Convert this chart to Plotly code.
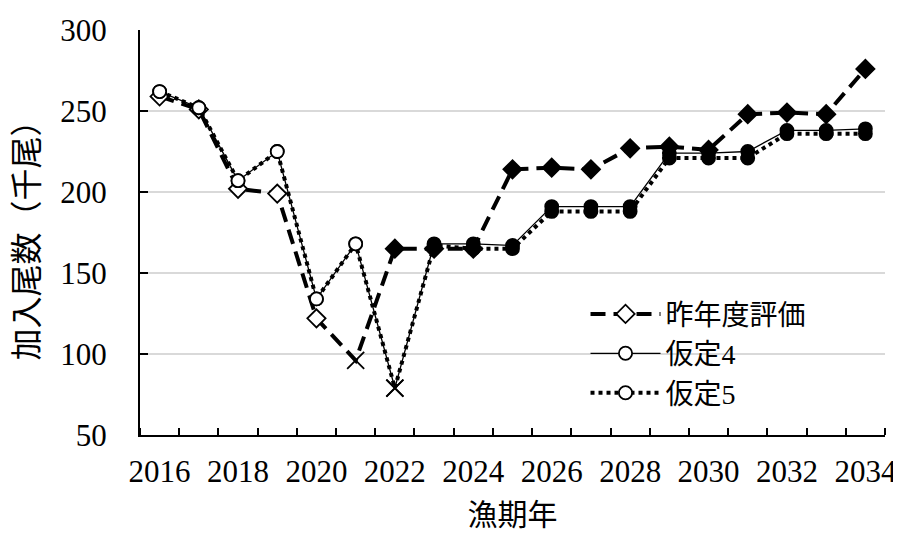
import plotly.graph_objects as go

# data
years = [2016, 2017, 2018, 2019, 2020, 2021, 2022, 2023, 2024, 2025,
         2026, 2027, 2028, 2029, 2030, 2031, 2032, 2033, 2034]
label_years = [2016, 2018, 2020, 2022, 2024, 2026, 2028, 2030, 2032, 2034]

last_year = [259, 251, 202, 199, 122, 96, 165, 165, 165, 214,
             215, 214, 227, 228, 226, 248, 249, 248, 276]
case4 = [262, 252, 207, 225, 134, 168, 79, 168, 168, 167,
         191, 191, 191, 224, 224, 225, 238, 238, 239]
case5 = [262, 252, 207, 225, 134, 168, 79, 167, 165, 165,
         188, 188, 188, 221, 221, 221, 236, 236, 236]

# marker kind per point: open (observed), x (last observed), filled (projection)
kind_last = ["open"] * 5 + ["x"] + ["filled"] * 13
kind_case = ["open"] * 6 + ["x"] + ["filled"] * 12

names = ["昨年度評価", "仮定4", "仮定5"]

FONT = "'Liberation Serif', 'Times New Roman', 'Noto Sans CJK JP', serif"


def marker_style(kinds, base, size):
    sym = [("x-thin" if k == "x" else base) for k in kinds]
    col = [("#ffffff" if k == "open" else "#000000") for k in kinds]
    sz = [(17 if k == "x" else size) for k in kinds]
    return dict(symbol=sym, color=col, size=sz, opacity=1,
                line=dict(color="#000000", width=1.8))


fig = go.Figure()

fig.add_scatter(
    x=years, y=last_year, name=names[0], mode="lines+markers",
    line=dict(color="black", width=4, dash="15px,8px"),
    marker=marker_style(kind_last, "diamond", 14),
)
fig.add_scatter(
    x=years, y=case4, name=names[1], mode="lines+markers",
    line=dict(color="black", width=1.3),
    marker=marker_style(kind_case, "circle", 13),
)
fig.add_scatter(
    x=years, y=case5, name=names[2], mode="lines+markers",
    line=dict(color="black", width=4, dash="4px,4px"),
    marker=marker_style(kind_case, "circle", 13),
)

# white patch behind the legend (hides the grid there)
fig.add_shape(type="rect", xref="paper", yref="paper",
              x0=0.458, x1=1.0, y0=0.04, y1=0.355,
              fillcolor="white", line=dict(width=0), layer="between")

# the page body adds an 8px offset, so the figure is 8px smaller
fig.update_layout(
    width=893, height=525,
    margin=dict(l=132, r=16, t=22, b=98),
    paper_bgcolor="white", plot_bgcolor="white",
    font=dict(family=FONT, size=31, color="black"),
    showlegend=True,
    legend=dict(x=0.598, y=0.36, xanchor="left", yanchor="top",
                bgcolor="rgba(0,0,0,0)", font=dict(size=28, family=FONT),
                itemwidth=70, tracegroupgap=0),
)

fig.update_xaxes(
    range=[2015.5, 2034.5], automargin=False,
    tickmode="array", tickvals=label_years,
    ticktext=[str(y) for y in label_years],
    ticks="", showgrid=False,
    showline=True, linecolor="black", linewidth=2,
    minor=dict(tickmode="linear", tick0=2015.5, dtick=1,
               ticks="inside", ticklen=7, tickcolor="black",
               tickwidth=1.5, showgrid=False),
    title=dict(text="漁期年", font=dict(size=30, family=FONT), standoff=16),
    tickfont=dict(size=31, family=FONT), ticklabelstandoff=8,
)
fig.update_yaxes(
    range=[50, 300], tickmode="linear", tick0=50, dtick=50, automargin=False,
    ticks="inside", ticklen=8, tickcolor="black", tickwidth=1.5,
    showline=True, linecolor="black", linewidth=2,
    showgrid=True, gridcolor="#d9d9d9", gridwidth=1.5,
    tickfont=dict(size=31, family=FONT), ticklabelstandoff=25,
    title=dict(text="加入尾数（千尾）", font=dict(size=32, family=FONT), standoff=12),
)

fig.write_html("out.html")
